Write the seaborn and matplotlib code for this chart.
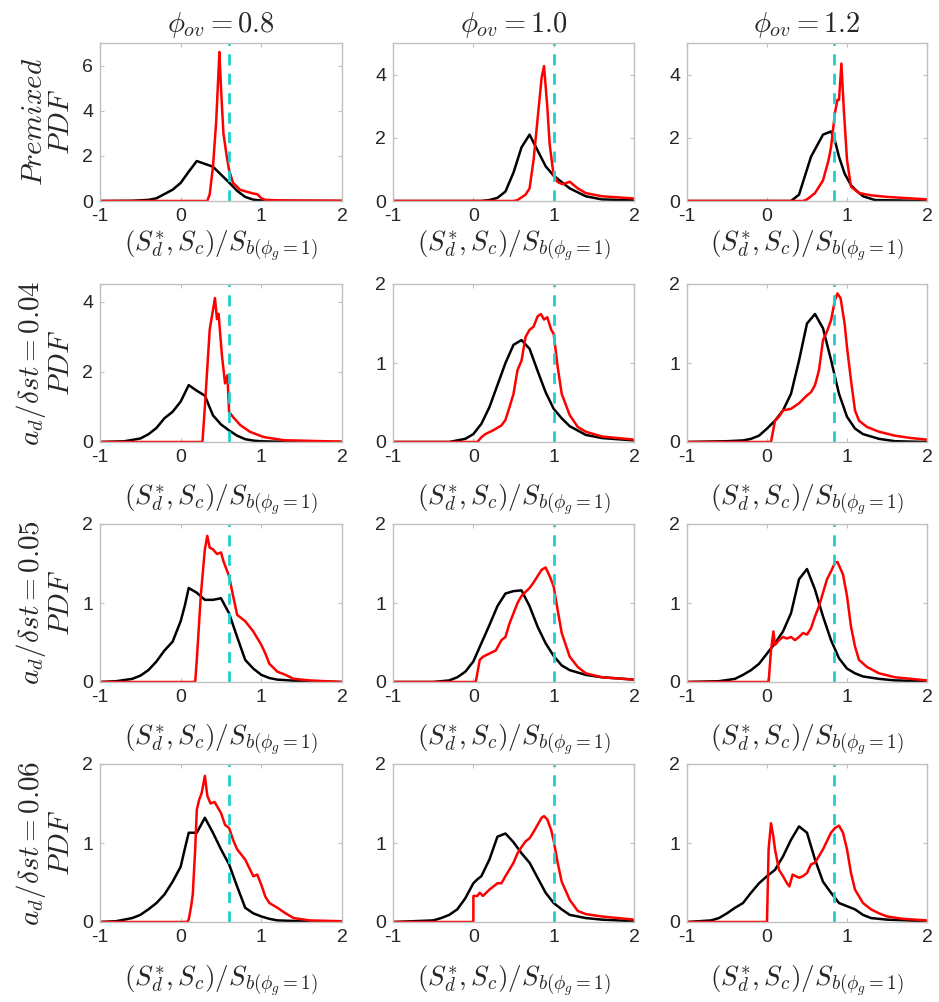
import numpy as np
import pandas as pd
import matplotlib
matplotlib.use("Agg")
import matplotlib.pyplot as plt
import seaborn as sns

# ---------------- data ----------------
col_titles = [r"$\phi_{ov}=0.8$", r"$\phi_{ov}=1.0$", r"$\phi_{ov}=1.2$"]
row_labels = [r"$Premixed$" + "\n" + r"$PDF$",
              r"$a_d/\delta st=0.04$" + "\n" + r"$PDF$",
              r"$a_d/\delta st=0.05$" + "\n" + r"$PDF$",
              r"$a_d/\delta st=0.06$" + "\n" + r"$PDF$"]
xlabel = r"$(S_d^{*},S_c)/S_{b(\phi_g=1)}$"
sb_lines = [0.6, 1.0, 0.84]
xticks = [-1, 0, 1, 2]
xticklabels = ["-1", "0", "1", "2"]
row_ylims = [[7, 5, 5], [4.5, 2, 2], [2, 2, 2], [2, 2, 2]]
row_yticks = [[[0, 2, 4, 6], [0, 2, 4], [0, 2, 4]],
              [[0, 2, 4], [0, 1, 2], [0, 1, 2]],
              [[0, 1, 2], [0, 1, 2], [0, 1, 2]],
              [[0, 1, 2], [0, 1, 2], [0, 1, 2]]]

# Row 1 (premixed)
k11_x = [-1, -0.6, -0.4, -0.3, -0.1, 0.0, 0.1, 0.2, 0.4, 0.6, 0.7, 0.8, 0.9, 1.0, 1.2, 2.0]
k11_y = [0, 0.01, 0.05, 0.12, 0.5, 0.8, 1.3, 1.77, 1.52, 0.82, 0.45, 0.18, 0.06, 0.02, 0.01, 0]
r11_x = [-1, 0.33, 0.36, 0.4, 0.44, 0.47, 0.48, 0.5, 0.53, 0.57, 0.6, 0.65, 0.74, 0.85, 0.9, 0.95, 1.0, 1.05, 1.3, 2.0]
r11_y = [0, 0, 0.3, 1.5, 3.5, 5.8, 6.6, 5.0, 3.0, 2.0, 1.37, 0.8, 0.49, 0.38, 0.33, 0.3, 0.12, 0.05, 0.02, 0.01]

k12_x = [-1, 0.1, 0.2, 0.3, 0.4, 0.5, 0.6, 0.7, 0.8, 0.9, 1.0, 1.1, 1.2, 1.4, 1.6, 2.0]
k12_y = [0, 0, 0.03, 0.1, 0.3, 0.9, 1.7, 2.1, 1.6, 1.1, 0.8, 0.6, 0.4, 0.15, 0.05, 0.02]
r12_x = [-1, 0.5, 0.55, 0.65, 0.7, 0.75, 0.8, 0.85, 0.88, 0.92, 0.95, 1.0, 1.05, 1.11, 1.2, 1.3, 1.4, 1.6, 2.0]
r12_y = [0, 0, 0.03, 0.2, 0.4, 1.3, 2.6, 3.9, 4.27, 3.0, 1.8, 0.8, 0.6, 0.53, 0.61, 0.4, 0.25, 0.15, 0.08]

k13_x = [-1, 0.3, 0.4, 0.55, 0.7, 0.8, 0.85, 0.9, 0.97, 1.05, 1.1, 1.2, 1.35, 2.0]
k13_y = [0, 0, 0.2, 1.4, 2.1, 2.2, 1.9, 1.4, 0.87, 0.5, 0.37, 0.15, 0.03, 0]
r13_x = [-1, 0.45, 0.5, 0.6, 0.7, 0.77, 0.8, 0.85, 0.88, 0.9, 0.93, 0.96, 1.0, 1.05, 1.15, 1.3, 1.5, 2.0]
r13_y = [0, 0, 0.05, 0.25, 0.65, 1.3, 1.7, 2.8, 3.2, 3.2, 4.35, 2.9, 1.3, 0.45, 0.25, 0.18, 0.13, 0.05]

# Row 2 (a_d/delta st = 0.04)
k21_x = [-1, -0.7, -0.5, -0.4, -0.3, -0.2, -0.1, 0.0, 0.1, 0.2, 0.3, 0.4, 0.5, 0.6, 0.7, 0.8, 0.9, 1.0, 1.2, 2.0]
k21_y = [0, 0.02, 0.1, 0.22, 0.4, 0.68, 0.86, 1.15, 1.62, 1.46, 1.32, 0.76, 0.5, 0.33, 0.18, 0.08, 0.04, 0.02, 0.01, 0]
r21_x = [-1, 0.27, 0.3, 0.36, 0.425, 0.45, 0.47, 0.51, 0.55, 0.58, 0.6, 0.65, 0.74, 0.86, 1.03, 1.28, 2.0]
r21_y = [0, 0, 1.0, 3.2, 4.1, 3.5, 3.65, 2.5, 1.67, 1.9, 0.86, 0.71, 0.48, 0.29, 0.14, 0.05, 0.01]

k22_x = [-1, -0.3, -0.2, -0.1, 0.0, 0.1, 0.2, 0.3, 0.4, 0.5, 0.6, 0.7, 0.8, 0.9, 1.0, 1.1, 1.2, 1.4, 1.6, 2.0]
k22_y = [0, 0, 0.02, 0.04, 0.1, 0.23, 0.44, 0.72, 1.0, 1.23, 1.29, 1.18, 0.9, 0.63, 0.42, 0.3, 0.2, 0.09, 0.05, 0.02]
r22_x = [-1, 0.05, 0.1, 0.15, 0.25, 0.35, 0.4, 0.45, 0.5, 0.55, 0.6, 0.65, 0.7, 0.75, 0.8, 0.84, 0.88, 0.92, 0.97, 1.0, 1.05, 1.1, 1.2, 1.3, 1.4, 1.6, 2.0]
r22_y = [0, 0, 0.06, 0.1, 0.15, 0.21, 0.28, 0.44, 0.61, 0.91, 1.03, 1.33, 1.42, 1.46, 1.59, 1.62, 1.55, 1.58, 1.42, 1.37, 0.95, 0.61, 0.34, 0.19, 0.13, 0.07, 0.03]

k23_x = [-1, -0.5, -0.3, -0.2, -0.1, 0.0, 0.1, 0.2, 0.3, 0.4, 0.5, 0.6, 0.7, 0.8, 0.9, 1.0, 1.1, 1.2, 1.3, 1.4, 1.6, 2.0]
k23_y = [0, 0.01, 0.02, 0.04, 0.08, 0.17, 0.27, 0.4, 0.61, 1.03, 1.5, 1.62, 1.44, 1.04, 0.61, 0.32, 0.17, 0.1, 0.07, 0.04, 0.01, 0]
r23_x = [-1, 0.05, 0.1, 0.15, 0.2, 0.3, 0.4, 0.5, 0.55, 0.6, 0.65, 0.7, 0.75, 0.8, 0.85, 0.88, 0.92, 0.97, 1.0, 1.05, 1.1, 1.15, 1.25, 1.4, 1.6, 1.8, 2.0]
r23_y = [0, 0, 0.27, 0.32, 0.4, 0.42, 0.49, 0.59, 0.63, 0.72, 0.91, 1.29, 1.4, 1.54, 1.8, 1.88, 1.82, 1.5, 1.2, 0.78, 0.4, 0.27, 0.19, 0.13, 0.08, 0.05, 0.03]

# Row 3 (a_d/delta st = 0.05)
k31_x = [-1, -0.8, -0.6, -0.5, -0.4, -0.3, -0.2, -0.1, 0.0, 0.05, 0.1, 0.2, 0.3, 0.4, 0.5, 0.6, 0.7, 0.8, 0.9, 1.0, 1.1, 1.2, 1.5, 2.0]
k31_y = [0, 0.01, 0.04, 0.08, 0.15, 0.26, 0.4, 0.51, 0.77, 0.96, 1.19, 1.13, 1.04, 1.04, 1.06, 0.87, 0.57, 0.28, 0.17, 0.09, 0.05, 0.03, 0.01, 0]
r31_x = [-1, 0.18, 0.2, 0.25, 0.3, 0.33, 0.36, 0.4, 0.45, 0.5, 0.53, 0.6, 0.65, 0.7, 0.75, 0.8, 0.9, 1.0, 1.05, 1.1, 1.2, 1.3, 1.4, 1.6, 2.0]
r31_y = [0, 0, 0.28, 1.1, 1.68, 1.85, 1.7, 1.68, 1.62, 1.64, 1.53, 1.34, 1.09, 0.85, 0.81, 0.77, 0.64, 0.47, 0.36, 0.23, 0.13, 0.09, 0.04, 0.02, 0]

k32_x = [-1, -0.5, -0.3, -0.2, -0.1, 0.0, 0.1, 0.2, 0.3, 0.4, 0.5, 0.6, 0.7, 0.8, 0.9, 1.0, 1.1, 1.2, 1.4, 1.6, 2.0]
k32_y = [0, 0, 0.02, 0.06, 0.13, 0.26, 0.49, 0.72, 0.96, 1.12, 1.15, 1.16, 0.96, 0.7, 0.49, 0.33, 0.21, 0.15, 0.09, 0.06, 0.03]
r32_x = [-1, 0.03, 0.08, 0.12, 0.2, 0.28, 0.35, 0.4, 0.45, 0.5, 0.55, 0.6, 0.7, 0.75, 0.8, 0.85, 0.9, 0.95, 1.0, 1.05, 1.1, 1.2, 1.3, 1.4, 1.6, 2.0]
r32_y = [0, 0, 0.28, 0.32, 0.36, 0.4, 0.53, 0.57, 0.74, 0.87, 1.0, 1.09, 1.19, 1.26, 1.34, 1.42, 1.45, 1.34, 1.21, 0.91, 0.62, 0.32, 0.19, 0.11, 0.06, 0.03]

k33_x = [-1, -0.6, -0.4, -0.3, -0.2, -0.1, 0.0, 0.1, 0.2, 0.3, 0.4, 0.5, 0.6, 0.7, 0.8, 0.9, 1.0, 1.1, 1.2, 1.4, 1.6, 2.0]
k33_y = [0, 0.01, 0.04, 0.09, 0.15, 0.23, 0.36, 0.49, 0.64, 0.87, 1.3, 1.43, 1.17, 0.83, 0.53, 0.3, 0.17, 0.11, 0.07, 0.04, 0.02, 0.01]
r33_x = [-1, 0.02, 0.05, 0.08, 0.1, 0.15, 0.2, 0.25, 0.3, 0.35, 0.4, 0.45, 0.5, 0.55, 0.6, 0.65, 0.7, 0.75, 0.8, 0.85, 0.88, 0.92, 0.95, 1.0, 1.05, 1.1, 1.15, 1.25, 1.4, 1.6, 2.0]
r33_y = [0, 0, 0.4, 0.64, 0.47, 0.53, 0.57, 0.55, 0.57, 0.53, 0.57, 0.62, 0.6, 0.68, 0.83, 0.96, 1.13, 1.3, 1.4, 1.51, 1.52, 1.43, 1.36, 1.09, 0.7, 0.45, 0.28, 0.19, 0.11, 0.06, 0.02]

# Row 4 (a_d/delta st = 0.06)
k41_x = [-1, -0.8, -0.6, -0.5, -0.4, -0.3, -0.2, -0.1, 0.0, 0.05, 0.1, 0.2, 0.3, 0.4, 0.5, 0.6, 0.7, 0.8, 0.9, 1.0, 1.1, 1.2, 1.5, 2.0]
k41_y = [0, 0.01, 0.05, 0.09, 0.16, 0.24, 0.35, 0.51, 0.7, 0.92, 1.13, 1.13, 1.32, 1.13, 0.92, 0.73, 0.45, 0.18, 0.11, 0.07, 0.04, 0.02, 0.01, 0]
r41_x = [-1, 0.08, 0.1, 0.13, 0.15, 0.18, 0.2, 0.23, 0.26, 0.3, 0.33, 0.37, 0.42, 0.5, 0.55, 0.6, 0.65, 0.7, 0.8, 0.9, 0.95, 1.0, 1.05, 1.1, 1.2, 1.3, 1.4, 1.6, 2.0]
r41_y = [0, 0, 0.03, 0.2, 0.35, 0.92, 1.42, 1.55, 1.63, 1.85, 1.6, 1.5, 1.52, 1.38, 1.23, 1.19, 1.04, 0.92, 0.79, 0.58, 0.6, 0.47, 0.32, 0.24, 0.18, 0.11, 0.05, 0.02, 0.01]

k42_x = [-1, -0.5, -0.4, -0.3, -0.2, -0.1, 0.0, 0.05, 0.1, 0.2, 0.3, 0.4, 0.5, 0.6, 0.7, 0.8, 0.9, 1.0, 1.1, 1.2, 1.4, 1.6, 2.0]
k42_y = [0, 0.02, 0.05, 0.09, 0.16, 0.3, 0.49, 0.54, 0.58, 0.79, 1.08, 1.12, 1.01, 0.87, 0.75, 0.56, 0.37, 0.24, 0.16, 0.09, 0.05, 0.03, 0.01]
r42_x = [-1, 0.0, 0.001, 0.05, 0.08, 0.12, 0.2, 0.3, 0.35, 0.4, 0.5, 0.55, 0.6, 0.65, 0.7, 0.75, 0.8, 0.85, 0.88, 0.92, 0.97, 1.0, 1.05, 1.1, 1.2, 1.3, 1.4, 1.6, 2.0]
r42_y = [0, 0, 0.33, 0.33, 0.37, 0.33, 0.41, 0.49, 0.49, 0.58, 0.75, 0.87, 0.95, 1.02, 1.06, 1.14, 1.23, 1.32, 1.34, 1.3, 1.16, 1.03, 0.75, 0.51, 0.28, 0.14, 0.1, 0.07, 0.03]

k43_x = [-1, -0.7, -0.6, -0.5, -0.4, -0.3, -0.2, -0.1, 0.0, 0.1, 0.2, 0.3, 0.4, 0.5, 0.6, 0.7, 0.8, 0.9, 1.0, 1.1, 1.2, 1.3, 1.5, 2.0]
k43_y = [0, 0.02, 0.05, 0.11, 0.18, 0.24, 0.37, 0.49, 0.58, 0.66, 0.83, 1.04, 1.21, 1.13, 0.79, 0.51, 0.37, 0.24, 0.2, 0.16, 0.09, 0.05, 0.03, 0.01]
r43_x = [-1, 0.0, 0.02, 0.05, 0.08, 0.1, 0.15, 0.2, 0.25, 0.28, 0.32, 0.4, 0.45, 0.5, 0.55, 0.6, 0.7, 0.8, 0.85, 0.9, 0.95, 1.0, 1.05, 1.1, 1.2, 1.3, 1.4, 1.5, 1.7, 2.0]
r43_y = [0, 0, 0.92, 1.25, 1.08, 0.92, 0.66, 0.58, 0.49, 0.45, 0.6, 0.56, 0.58, 0.62, 0.73, 0.75, 0.92, 1.13, 1.19, 1.22, 1.13, 0.92, 0.62, 0.41, 0.24, 0.16, 0.11, 0.07, 0.04, 0.02]

black_curves = [[(k11_x, k11_y), (k12_x, k12_y), (k13_x, k13_y)],
                [(k21_x, k21_y), (k22_x, k22_y), (k23_x, k23_y)],
                [(k31_x, k31_y), (k32_x, k32_y), (k33_x, k33_y)],
                [(k41_x, k41_y), (k42_x, k42_y), (k43_x, k43_y)]]
red_curves = [[(r11_x, r11_y), (r12_x, r12_y), (r13_x, r13_y)],
              [(r21_x, r21_y), (r22_x, r22_y), (r23_x, r23_y)],
              [(r31_x, r31_y), (r32_x, r32_y), (r33_x, r33_y)],
              [(r41_x, r41_y), (r42_x, r42_y), (r43_x, r43_y)]]

# ---------------- style ----------------
sns.set_style("white")
plt.rcParams["font.family"] = ["Liberation Sans", "DejaVu Sans"]
plt.rcParams["mathtext.fontset"] = "cm"
plt.rcParams["axes.unicode_minus"] = False

W, H = 939, 1002
fig = plt.figure(figsize=(W / 100, H / 100), dpi=100)

col_left = [100, 393, 687]
col_w = [242, 241, 240]
row_top = [43, 284, 524, 764]
row_h = 158
row_xlabelpad = [3, 12, 12, 13]

frame_col = "#c0c0c0"
text_col = "#262626"

for i in range(4):
    for j in range(3):
        ax = fig.add_axes([col_left[j] / W, 1 - (row_top[i] + row_h) / H,
                           col_w[j] / W, row_h / H])
        kx, ky = black_curves[i][j]
        rx, ry = red_curves[i][j]
        df = pd.concat([
            pd.DataFrame({"x": kx, "y": ky, "curve": "black"}),
            pd.DataFrame({"x": rx, "y": ry, "curve": "red"}),
        ], ignore_index=True)
        sns.lineplot(data=df, x="x", y="y", hue="curve",
                     palette={"black": "#000000", "red": "#ff0000"},
                     sort=False, estimator=None, legend=False,
                     linewidth=1.8, ax=ax)
        ax.axvline(sb_lines[j], color="#1fcfcf", linestyle=(0, (4, 3)), linewidth=2.0)
        ax.set_xlim(-1, 2)
        ax.set_ylim(0, row_ylims[i][j])
        ax.set_xticks(xticks)
        ax.set_xticklabels(xticklabels)
        ax.set_yticks(row_yticks[i][j])
        ax.set_yticklabels([str(t) for t in row_yticks[i][j]])
        ax.tick_params(direction="in", length=3, width=0.8, color=frame_col,
                       labelcolor=text_col, labelsize=14,
                       top=True, right=True, bottom=True, left=True, pad=5)
        for s in ax.spines.values():
            s.set_color(frame_col)
            s.set_linewidth(1.0)
        ax.set_xlabel(xlabel, fontsize=19.5, color=text_col, labelpad=row_xlabelpad[i])
        if j == 0:
            ax.set_ylabel(row_labels[i], fontsize=21, color=text_col,
                          linespacing=0.95, labelpad=5)
        else:
            ax.set_ylabel("")
        if i == 0:
            ax.set_title(col_titles[j], fontsize=20.5, color=text_col, pad=8)

fig.savefig("out.png", dpi=100)
